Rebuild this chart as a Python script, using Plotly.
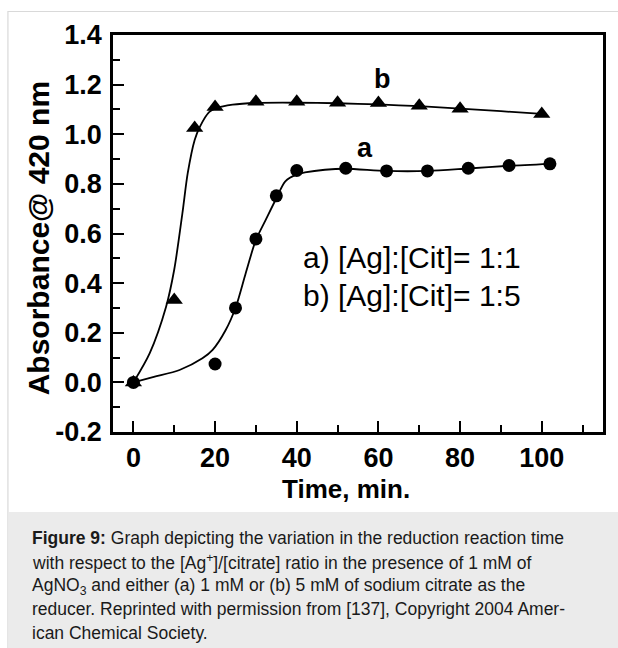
import plotly.graph_objects as go

# ---- data ----
a_time = [0, 20, 25, 30, 35, 40, 52, 62, 72, 82, 92, 102]
a_abs = [0.0, 0.074, 0.30, 0.578, 0.752, 0.854, 0.863, 0.852, 0.852, 0.863, 0.874, 0.881]

b_time = [0, 10, 15, 20, 30, 40, 50, 60, 70, 80, 100]
b_abs = [0.0, 0.332, 1.025, 1.11, 1.131, 1.131, 1.127, 1.126, 1.115, 1.103, 1.082]

# fitted curves
fit_a_time = [0, 5, 11.3, 16.9, 19.4, 22.6, 25.1, 27.5, 30, 32.4, 34.8, 37.2, 40, 42, 46.9, 52, 62, 72, 82, 92, 102]
fit_a_abs = [0.0, 0.022, 0.05, 0.097, 0.131, 0.211, 0.305, 0.44, 0.574, 0.655, 0.735, 0.81, 0.838, 0.846, 0.857, 0.861, 0.852, 0.852, 0.862, 0.873, 0.881]

fit_b_time = [0, 4, 8, 10, 12, 13.3, 15, 16.3, 18.6, 20.3, 24.3, 30, 40, 50, 60, 70, 80, 90, 100]
fit_b_abs = [0.0, 0.118, 0.305, 0.455, 0.682, 0.843, 0.977, 1.031, 1.09, 1.105, 1.119, 1.126, 1.127, 1.125, 1.12, 1.113, 1.103, 1.093, 1.082]

x_ticks = [0, 20, 40, 60, 80, 100]
y_ticks = [-0.2, 0.0, 0.2, 0.4, 0.6, 0.8, 1.0, 1.2, 1.4]
y_ticklabels = ["-0.2", "0.0", "0.2", "0.4", "0.6", "0.8", "1.0", "1.2", "1.4"]

x_title = "Time, min."
y_title = "Absorbance@ 420 nm"
legend_lines = ["a) [Ag]:[Cit]= 1:1", "b) [Ag]:[Cit]= 1:5"]
caption_lines = [
    "<b>Figure 9:</b> Graph depicting the variation in the reduction reaction time",
    "with respect to the [Ag<sup>+</sup>]/[citrate] ratio in the presence of 1 mM of",
    "AgNO<sub>3</sub> and either (a) 1 mM or (b) 5 mM of sodium citrate as the",
    "reducer. Reprinted with permission from [137], Copyright 2004 Amer-",
    "ican Chemical Society.",
]

# ---- layout geometry (pixels) ----
W, H = 618, 648
L, R, T, B = 113, 605, 35, 432
pw, ph = R - L, B - T


def px(xp):
    return (xp - L) / pw


def py(yp):
    return (B - yp) / ph


FONT = "Liberation Sans, Arial, sans-serif"

fig = go.Figure()

fig.add_trace(go.Scatter(x=fit_b_time, y=fit_b_abs, mode="lines",
                         line=dict(color="black", width=1.8, shape="spline", smoothing=0.8),
                         hoverinfo="skip", showlegend=False))
fig.add_trace(go.Scatter(x=fit_a_time, y=fit_a_abs, mode="lines",
                         line=dict(color="black", width=1.8, shape="spline", smoothing=0.8),
                         hoverinfo="skip", showlegend=False))
fig.add_trace(go.Scatter(x=b_time, y=b_abs, mode="markers",
                         marker=dict(symbol="triangle-up", size=15, color="black"),
                         showlegend=False))
fig.add_trace(go.Scatter(x=a_time, y=a_abs, mode="markers",
                         marker=dict(symbol="circle", size=13, color="black"),
                         showlegend=False))

axis_common = dict(showgrid=False, zeroline=False, showline=True, linecolor="black",
                   linewidth=2.5, mirror=True, ticks="inside", ticklen=11, tickwidth=2,
                   tickcolor="black",
                   tickfont=dict(family=FONT, size=27, color="black", weight="bold"))

fig.update_xaxes(range=[-5, 115], tickvals=x_ticks, ticktext=[str(v) for v in x_ticks],
                 minor=dict(ticks="inside", ticklen=7, tickwidth=2, tickcolor="black",
                            tickvals=[10, 30, 50, 70, 90, 110]),
                 ticklabelstandoff=0,
                 **axis_common)
fig.update_yaxes(range=[-0.2, 1.4], tickvals=y_ticks, ticktext=y_ticklabels,
                 minor=dict(ticks="inside", ticklen=7, tickwidth=2, tickcolor="black",
                            tickvals=[-0.1, 0.1, 0.3, 0.5, 0.7, 0.9, 1.1, 1.3]),
                 ticklabelstandoff=3,
                 **axis_common)

# axis titles
fig.add_annotation(xref="paper", yref="paper", x=px(347), y=py(489),
                   text="<b>" + x_title + "</b>", showarrow=False,
                   xanchor="center", yanchor="middle",
                   font=dict(family=FONT, size=26, color="black"))
fig.add_annotation(xref="paper", yref="paper", x=px(38), y=py(238),
                   text="<b>" + y_title + "</b>", showarrow=False, textangle=-90,
                   xanchor="center", yanchor="middle",
                   font=dict(family=FONT, size=30, color="black"))

# series labels
fig.add_annotation(x=61, y=1.223, text="<b>b</b>", showarrow=False,
                   font=dict(family=FONT, size=27, color="black"))
fig.add_annotation(x=56.7, y=0.945, text="<b>a</b>", showarrow=False,
                   font=dict(family=FONT, size=27, color="black"))
for yv, line in zip([0.505, 0.352], legend_lines):
    fig.add_annotation(x=41.0, y=yv, text=line, showarrow=False,
                       xanchor="left", yanchor="middle",
                       font=dict(family=FONT, size=30, color="black"))

# frame and caption background
fig.add_shape(type="rect", xref="paper", yref="paper",
              x0=px(7.5), x1=px(640), y0=py(11.5), y1=py(700),
              line=dict(color="#d9d9d9", width=1.2), fillcolor="rgba(0,0,0,0)", layer="below")
fig.add_shape(type="rect", xref="paper", yref="paper",
              x0=px(8), x1=px(640), y0=py(512), y1=py(700),
              line=dict(width=0), fillcolor="#ebebeb", layer="below")

cap_y = [538, 562, 586, 609, 633]
for yy, line in zip(cap_y, caption_lines):
    fig.add_annotation(xref="paper", yref="paper", x=px(30), y=py(yy), text=line,
                       showarrow=False, xanchor="left", yanchor="middle",
                       font=dict(family=FONT, size=17.5, color="#1a1a1a"))

fig.update_layout(width=W, height=H, margin=dict(l=L, r=W - R, t=T, b=H - B),
                  paper_bgcolor="white", plot_bgcolor="rgba(0,0,0,0)",
                  font=dict(family=FONT, color="black"))

fig.write_html("out.html")
